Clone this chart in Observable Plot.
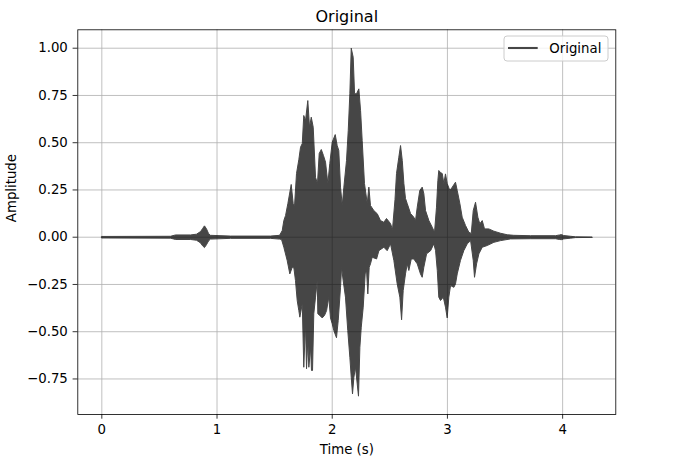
<!DOCTYPE html>
<html>
<head>
<meta charset="utf-8">
<script src="https://cdn.jsdelivr.net/npm/d3@7"></script>
<script src="https://cdn.jsdelivr.net/npm/@observablehq/plot@0.6"></script>
<style>
  html, body { margin: 0; padding: 0; background: white; }
  #chart { position: relative; width: 680px; height: 469px; }
</style>
</head>
<body>
<div id="chart"></div>
<script>
// ---- data ----
const seriesName = "Original";
const xTicks = [0, 1, 2, 3, 4];
const yTicks = [-0.75, -0.5, -0.25, 0, 0.25, 0.5, 0.75, 1.0];

// upper envelope of the waveform (time in s, amplitude)
const upperTime = [0, 0.596, 0.640, 0.770, 0.822, 0.857, 0.874, 0.891, 0.908, 0.926, 0.943, 1.117, 1.464, 1.543,
  1.566, 1.580, 1.595, 1.615, 1.644, 1.661, 1.673, 1.690, 1.710, 1.725, 1.740, 1.753, 1.768, 1.788, 1.803, 1.818,
  1.835, 1.855, 1.872, 1.887, 1.905, 1.924, 1.942, 1.962, 1.979, 2.000, 2.026, 2.043, 2.057, 2.072, 2.087, 2.101,
  2.124, 2.139, 2.153, 2.165, 2.182, 2.194, 2.211, 2.231, 2.246, 2.260, 2.280, 2.304, 2.318, 2.332, 2.361, 2.391,
  2.419, 2.448, 2.471, 2.506, 2.523, 2.545, 2.558, 2.578, 2.593, 2.608, 2.622, 2.636, 2.651, 2.680, 2.708, 2.723,
  2.738, 2.760, 2.781, 2.795, 2.810, 2.839, 2.868, 2.888, 2.905, 2.917, 2.925, 2.940, 2.955, 2.969, 2.983, 2.998,
  3.021, 3.042, 3.070, 3.085, 3.108, 3.128, 3.157, 3.186, 3.207, 3.224, 3.244, 3.264, 3.281, 3.302, 3.322, 3.359,
  3.403, 3.461, 3.519, 3.576, 3.721, 3.938, 3.973, 3.990, 4.008, 4.069, 4.112, 4.257];
const upperAmp = [0.004, 0.005, 0.012, 0.012, 0.016, 0.03, 0.045, 0.06, 0.045, 0.02, 0.01, 0.006, 0.006, 0.01,
  0.035, 0.088, 0.115, 0.178, 0.279, 0.178, 0.168, 0.337, 0.41, 0.476, 0.496, 0.644, 0.617, 0.723, 0.582, 0.635,
  0.582, 0.317, 0.284, 0.443, 0.464, 0.432, 0.397, 0.284, 0.39, 0.503, 0.543, 0.485, 0.459, 0.265, 0.168, 0.265,
  0.406, 0.565, 0.759, 1.0, 0.952, 0.759, 0.759, 0.785, 0.67, 0.512, 0.284, 0.178, 0.265, 0.168, 0.141, 0.124,
  0.088, 0.079, 0.099, 0.072, 0.04, 0.2, 0.337, 0.423, 0.485, 0.406, 0.284, 0.205, 0.178, 0.125, 0.106, 0.088,
  0.159, 0.247, 0.265, 0.231, 0.141, 0.088, 0.053, 0.026, 0.159, 0.3, 0.353, 0.342, 0.337, 0.284, 0.335, 0.284,
  0.247, 0.265, 0.291, 0.247, 0.178, 0.106, 0.062, 0.026, 0.02, 0.141, 0.185, 0.106, 0.071, 0.088, 0.044, 0.044,
  0.032, 0.021, 0.013, 0.01, 0.008, 0.008, 0.012, 0.014, 0.009, 0.005, 0.002, 0.001];

// lower envelope of the waveform
const lowerTime = [0, 0.596, 0.640, 0.770, 0.822, 0.857, 0.874, 0.891, 0.908, 0.926, 0.943, 1.117, 1.464, 1.543,
  1.560, 1.580, 1.609, 1.632, 1.653, 1.667, 1.681, 1.696, 1.710, 1.719, 1.740, 1.753, 1.768, 1.777, 1.788, 1.797,
  1.812, 1.820, 1.829, 1.840, 1.855, 1.870, 1.875, 1.892, 1.913, 1.933, 1.951, 1.970, 1.985, 2.000, 2.014, 2.037,
  2.052, 2.072, 2.081, 2.095, 2.115, 2.135, 2.153, 2.165, 2.176, 2.188, 2.202, 2.217, 2.228, 2.240, 2.252, 2.269,
  2.286, 2.298, 2.309, 2.321, 2.332, 2.347, 2.385, 2.405, 2.448, 2.477, 2.506, 2.535, 2.564, 2.587, 2.602, 2.616,
  2.636, 2.651, 2.665, 2.686, 2.708, 2.738, 2.766, 2.781, 2.795, 2.819, 2.854, 2.882, 2.897, 2.912, 2.925, 2.940,
  2.964, 2.983, 2.998, 3.012, 3.027, 3.056, 3.070, 3.085, 3.113, 3.142, 3.172, 3.201, 3.224, 3.235, 3.253, 3.273,
  3.302, 3.345, 3.403, 3.461, 3.548, 3.721, 3.938, 3.973, 3.990, 4.008, 4.069, 4.112, 4.257];
const lowerAmp = [-0.004, -0.005, -0.012, -0.012, -0.016, -0.03, -0.045, -0.055, -0.04, -0.02, -0.01, -0.006, -0.006, -0.01,
  -0.012, -0.053, -0.123, -0.194, -0.159, -0.162, -0.229, -0.335, -0.388, -0.423, -0.352, -0.688, -0.458, -0.696, -0.547, -0.688,
  -0.582, -0.705, -0.705, -0.405, -0.317, -0.229, -0.405, -0.414, -0.427, -0.414, -0.388, -0.317, -0.427, -0.458, -0.494, -0.532,
  -0.441, -0.265, -0.159, -0.229, -0.317, -0.494, -0.635, -0.741, -0.829, -0.741, -0.688, -0.776, -0.841, -0.582, -0.476, -0.37,
  -0.194, -0.176, -0.3, -0.159, -0.141, -0.106, -0.115, -0.071, -0.053, -0.071, -0.035, -0.123, -0.247, -0.317, -0.437, -0.282,
  -0.194, -0.141, -0.176, -0.115, -0.115, -0.141, -0.194, -0.212, -0.159, -0.088, -0.071, -0.035, -0.071, -0.176, -0.317, -0.335,
  -0.317, -0.37, -0.427, -0.317, -0.256, -0.265, -0.247, -0.194, -0.123, -0.071, -0.035, -0.018, -0.123, -0.212, -0.141, -0.088,
  -0.053, -0.044, -0.027, -0.018, -0.009, -0.008, -0.008, -0.012, -0.013, -0.009, -0.005, -0.002, -0.001];

// ---- build polygon (upper left->right, lower right->left) ----
const upper = upperTime.map((t, i) => ({t, a: upperAmp[i]}));
const lower = lowerTime.map((t, i) => ({t, a: lowerAmp[i]})).reverse();
const outline = upper.concat(lower);

const plot = Plot.plot({
  width: 680,
  height: 469,
  marginLeft: 77.3,
  marginRight: 64.7,
  marginTop: 29.3,
  marginBottom: 55,
  style: {fontFamily: "DejaVu Sans", fontSize: "13.3px", color: "black", background: "white", overflow: "visible"},
  x: {domain: [-0.2085, 4.4615]},
  y: {domain: [-0.938, 1.0974]},
  marks: [
    Plot.gridX(xTicks, {stroke: "#b0b0b0", strokeOpacity: 1, strokeWidth: 0.8}),
    Plot.gridY(yTicks, {stroke: "#b0b0b0", strokeOpacity: 1, strokeWidth: 0.8}),
    Plot.line(outline, {x: "t", y: "a", fill: "black", stroke: "black", strokeWidth: 1, opacity: 0.72, curve: "linear-closed"}),
    Plot.axisX(xTicks, {tickSize: 4.7, tickPadding: 5.1, tickFormat: d => String(d), label: null, strokeWidth: 0.8}),
    Plot.axisY(yTicks, {tickSize: 4.7, tickPadding: 5.3, tickFormat: d3.format(".2f"), label: null, strokeWidth: 0.8}),
    Plot.frame({stroke: "black", strokeWidth: 0.8}),
    Plot.text([seriesName], {frameAnchor: "top", dy: -7.8, lineAnchor: "bottom", fontSize: 16, text: d => d}),
    Plot.text(["Time (s)"], {frameAnchor: "bottom", dy: 39.5, lineAnchor: "bottom", text: d => d}),
    Plot.text(["Amplitude"], {frameAnchor: "left", dx: -61.6, rotate: -90, lineAnchor: "bottom", text: d => d})
  ]
});

// legend inside the axes (upper right), matplotlib style
const svg = d3.select(plot);
const lg = svg.append("g").attr("class", "legend");
lg.append("rect").attr("x", 504).attr("y", 36).attr("width", 104).attr("height", 25)
  .attr("rx", 3).attr("fill", "white").attr("fill-opacity", 0.8).attr("stroke", "#cccccc").attr("stroke-width", 1);
lg.append("line").attr("x1", 508).attr("x2", 537.7).attr("y1", 48).attr("y2", 48)
  .attr("stroke", "black").attr("stroke-opacity", 0.72).attr("stroke-width", 2.1);
lg.append("text").attr("x", 549.3).attr("y", 52.5).attr("fill", "black")
  .attr("text-anchor", "start").attr("font-size", "13.3px").text(seriesName);

document.getElementById("chart").appendChild(plot);
</script>
</body>
</html>
